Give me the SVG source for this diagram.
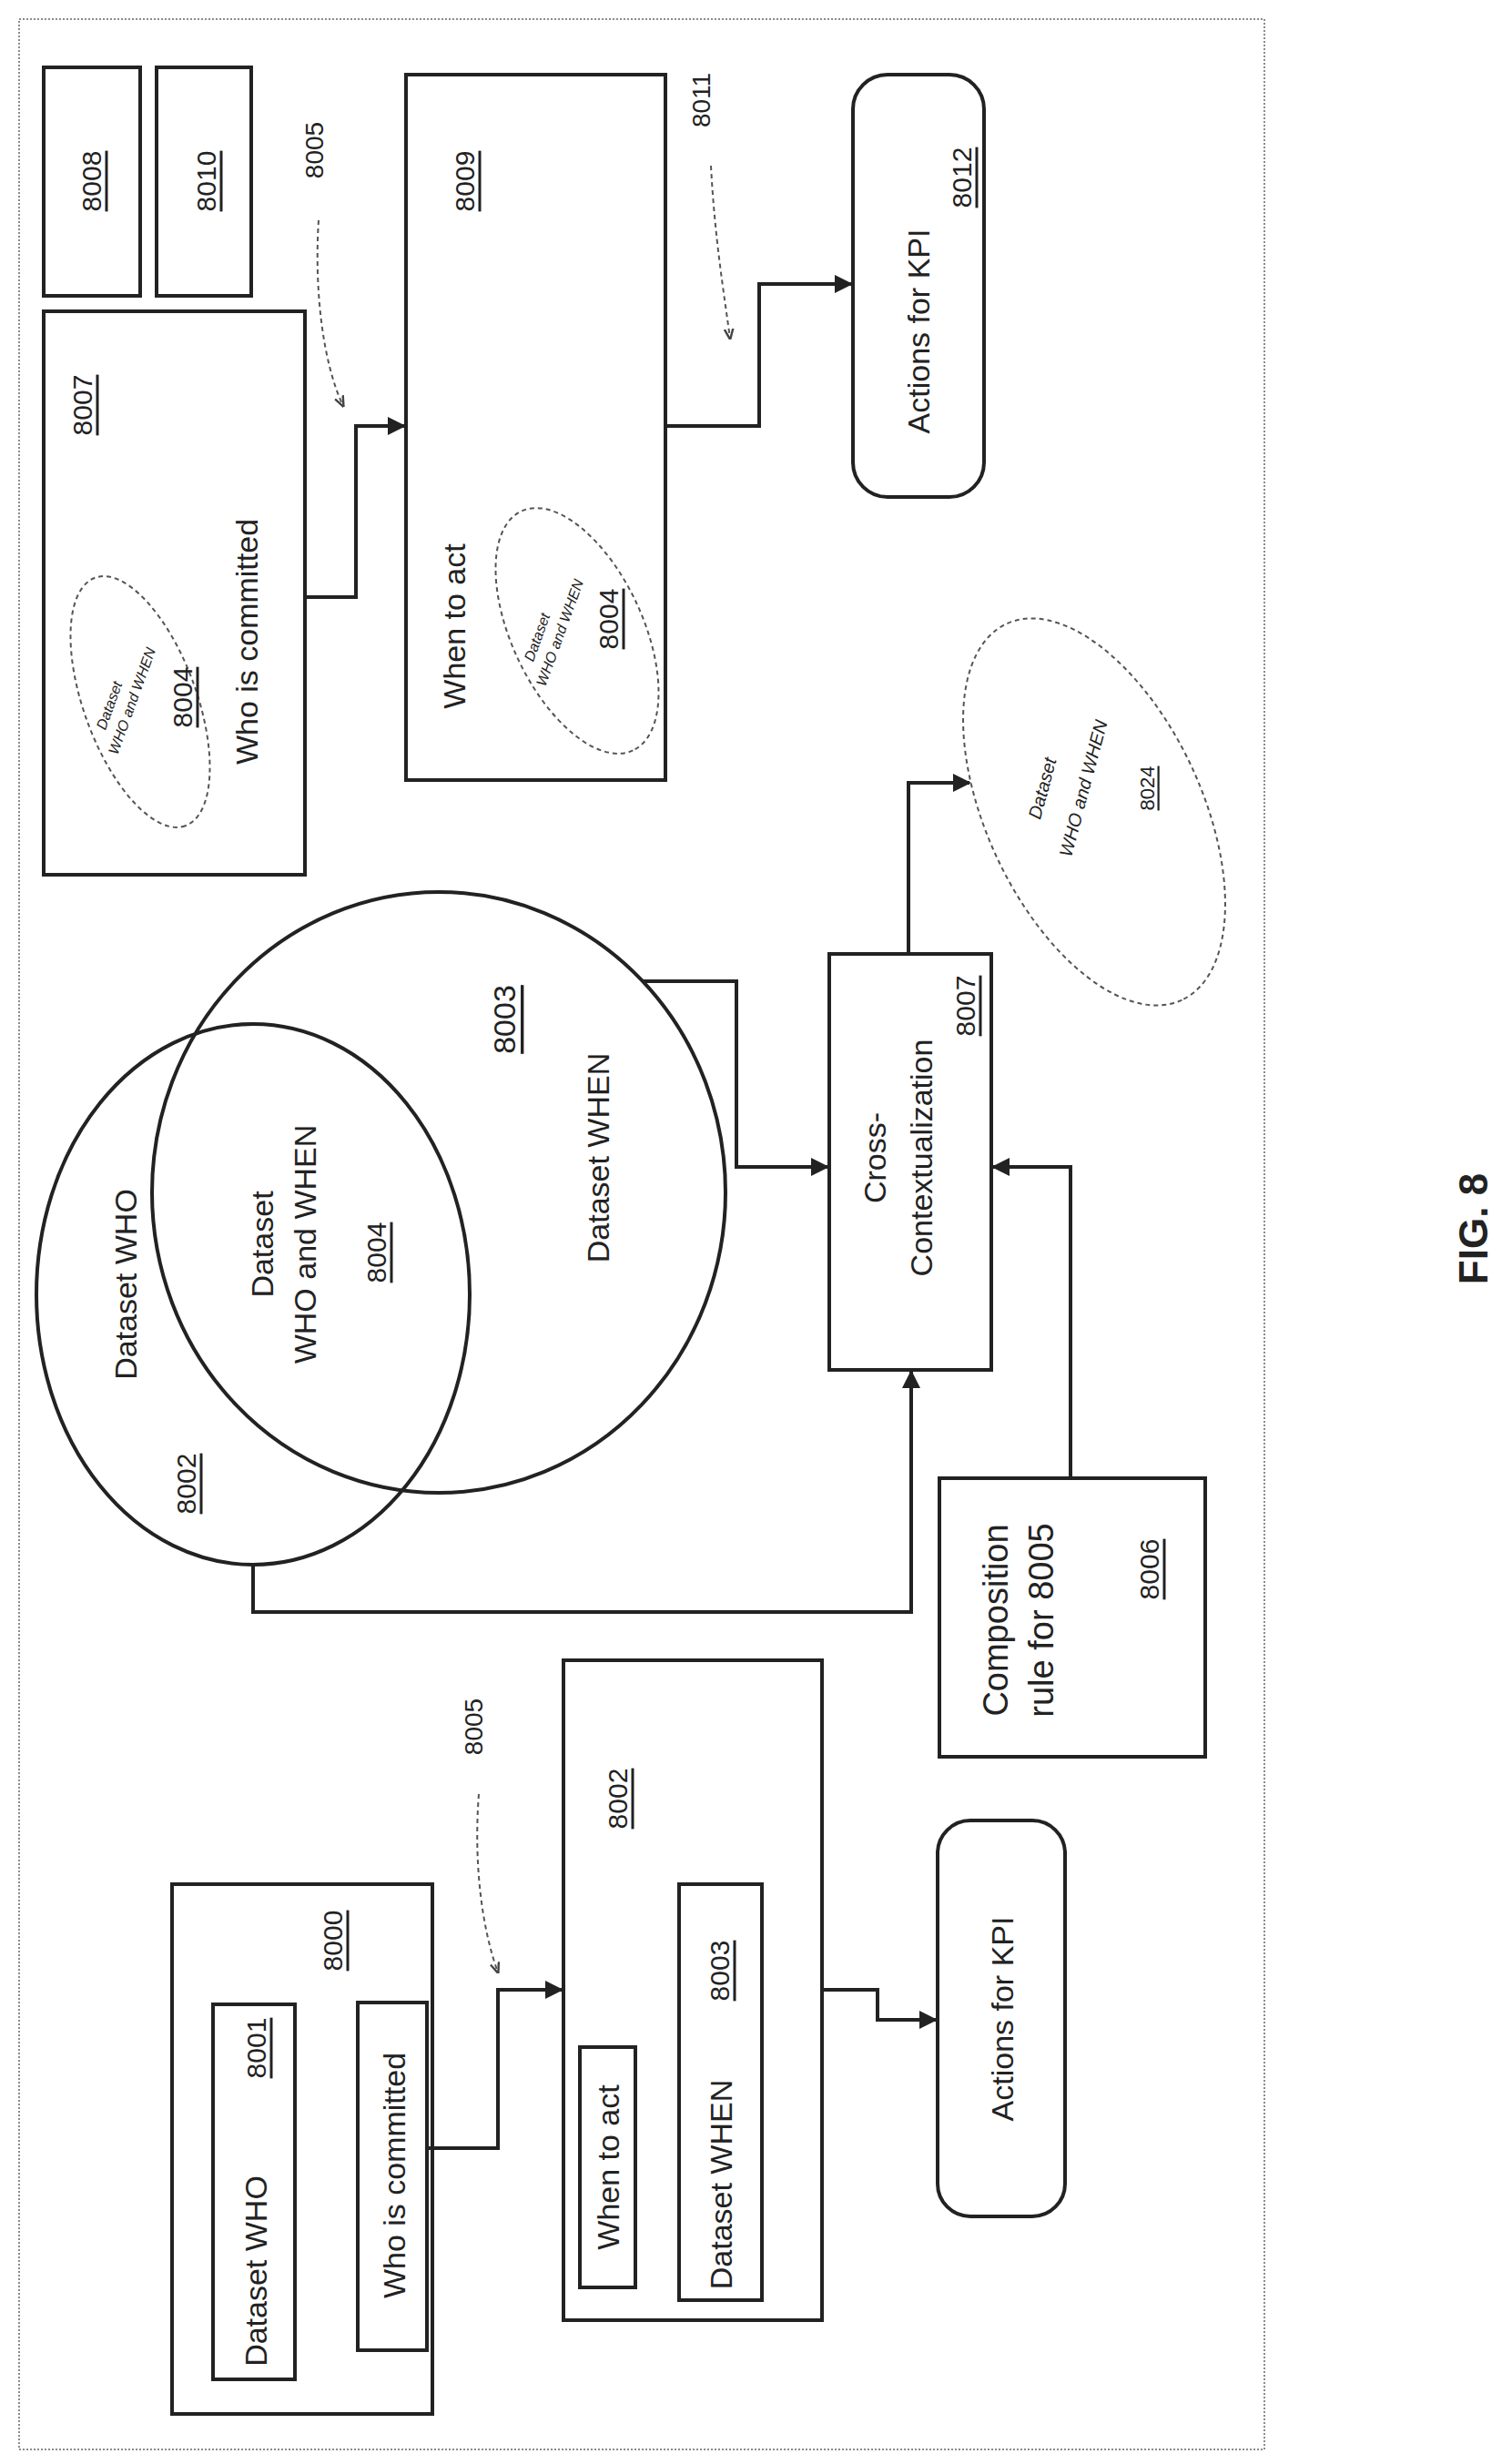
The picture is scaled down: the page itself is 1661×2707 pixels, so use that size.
<svg xmlns="http://www.w3.org/2000/svg" width="1661" height="2707" viewBox="0 0 1661 2707">
<style>
.b{fill:none;stroke:#222;stroke-width:4}
.c{fill:none;stroke:#222;stroke-width:4}
.d{fill:none;stroke:#555;stroke-width:2;stroke-dasharray:5 4}
t,text{font-family:"Liberation Sans",Arial,sans-serif;fill:#222;dominant-baseline:central;text-anchor:middle}
.l{font-size:34px}
.s{font-size:30px;text-decoration:underline}
.m{font-size:16px;font-style:italic}
</style>
<defs>
<marker id="a" viewBox="0 0 10 10" refX="9" refY="5" markerWidth="5" markerHeight="5" orient="auto" markerUnits="strokeWidth"><path d="M0,0L10,5L0,10z" fill="#222"/></marker>
<marker id="da" viewBox="0 0 10 10" refX="9" refY="5" markerWidth="6" markerHeight="6" orient="auto" markerUnits="strokeWidth"><path d="M0,1L10,5L0,9" fill="none" stroke="#444" stroke-width="2"/></marker>
</defs>
<rect x="21" y="21" width="1368" height="2670" fill="none" stroke="#666" stroke-width="1.5" stroke-dasharray="2 2"/>

<g id="n8008"><rect class="b" x="48" y="74" width="106" height="251"/><text class="s" transform="translate(100,199) rotate(-90)">8008</text></g>
<g id="n8010"><rect class="b" x="172" y="74" width="104" height="251"/><text class="s" transform="translate(226,199) rotate(-90)">8010</text></g>

<g id="n8007a"><rect class="b" x="48" y="342" width="287" height="619"/>
<text class="s" transform="translate(90,445) rotate(-90)">8007</text>
<ellipse class="d" cx="154" cy="771" rx="145" ry="62" transform="rotate(70 154 771)"/>
<text class="m" transform="translate(120,775) rotate(-70)">Dataset</text>
<text class="m" transform="translate(145,770) rotate(-70)">WHO and WHEN</text>
<text class="s" transform="translate(200,766) rotate(-90)">8004</text>
<text class="l" transform="translate(271,705) rotate(-90)">Who is committed</text></g>

<g id="n8009"><rect class="b" x="446" y="82" width="285" height="775"/>
<text class="s" transform="translate(510,199) rotate(-90)">8009</text>
<text class="l" transform="translate(499,688) rotate(-90)">When to act</text>
<ellipse class="d" cx="634" cy="693" rx="145" ry="72" transform="rotate(65 634 693)"/>
<text class="m" transform="translate(590,700) rotate(-70)">Dataset</text>
<text class="m" transform="translate(615,695) rotate(-70)">WHO and WHEN</text>
<text class="s" transform="translate(668,680) rotate(-90)">8004</text></g>

<g id="n8012"><rect class="b" x="937" y="82" width="144" height="464" rx="38"/>
<text class="l" transform="translate(1009,364) rotate(-90)">Actions for KPI</text>
<text class="s" transform="translate(1056,195) rotate(-90)">8012</text></g>

<g id="n8024"><ellipse class="d" cx="1202" cy="892" rx="228" ry="118" transform="rotate(65 1202 892)"/>
<text class="m" style="font-size:20px" transform="translate(1145,866) rotate(-75)">Dataset</text>
<text class="m" style="font-size:20px" transform="translate(1190,866) rotate(-75)">WHO and WHEN</text>
<text class="s" style="font-size:22px" transform="translate(1260,866) rotate(-90)">8024</text></g>

<g id="n8002c"><ellipse class="b" cx="278" cy="1422" rx="238" ry="297"/>
<text class="l" transform="translate(138,1411) rotate(-90)">Dataset WHO</text>
<text class="s" transform="translate(204,1630) rotate(-90)">8002</text></g>
<g id="n8003c"><ellipse class="b" cx="482" cy="1310" rx="315" ry="330"/>
<text class="l" transform="translate(554,1120) rotate(-90)"><tspan style="text-decoration:underline">8003</tspan></text>
<text class="l" transform="translate(657,1272) rotate(-90)">Dataset WHEN</text></g>
<g id="n8004c">
<text class="l" transform="translate(288,1367) rotate(-90)">Dataset</text>
<text class="l" transform="translate(335,1367) rotate(-90)">WHO and WHEN</text>
<text class="s" transform="translate(413,1376) rotate(-90)">8004</text></g>

<g id="n8007"><rect class="b" x="911" y="1048" width="178" height="457"/>
<text class="l" transform="translate(961,1272) rotate(-90)">Cross-</text>
<text class="l" transform="translate(1012,1272) rotate(-90)">Contextualization</text>
<text class="s" transform="translate(1060,1105) rotate(-90)">8007</text></g>

<g id="n8006"><rect class="b" x="1032" y="1624" width="292" height="306"/>
<text class="l" style="font-size:38px" transform="translate(1094,1780) rotate(-90)">Composition</text>
<text class="l" style="font-size:38px" transform="translate(1144,1780) rotate(-90)">rule for 8005</text>
<text class="s" transform="translate(1262,1724) rotate(-90)">8006</text></g>

<g id="n8000"><rect class="b" x="189" y="2070" width="286" height="582"/>
<rect class="b" x="234" y="2202" width="90" height="412"/>
<text class="l" transform="translate(281,2495) rotate(-90)">Dataset WHO</text>
<text class="s" transform="translate(281,2250) rotate(-90)">8001</text>
<rect class="b" x="393" y="2200" width="76" height="382"/>
<text class="l" transform="translate(433,2390) rotate(-90)">Who is committed</text>
<text class="s" transform="translate(365,2132) rotate(-90)">8000</text></g>

<g id="n8002b"><rect class="b" x="619" y="1824" width="284" height="725"/>
<text class="s" transform="translate(678,1976) rotate(-90)">8002</text>
<rect class="b" x="637" y="2249" width="61" height="264"/>
<text class="l" transform="translate(668,2381) rotate(-90)">When to act</text>
<rect class="b" x="746" y="2070" width="91" height="457"/>
<text class="l" transform="translate(792,2400) rotate(-90)">Dataset WHEN</text>
<text class="s" transform="translate(790,2165) rotate(-90)">8003</text></g>

<g id="nkpi"><rect class="b" x="1030" y="2000" width="140" height="435" rx="36"/>
<text class="l" transform="translate(1101,2218) rotate(-90)">Actions for KPI</text></g>

<g id="labels">
<text class="l" style="font-size:28px" transform="translate(345,165) rotate(-90)">8005</text>
<text class="l" style="font-size:28px" transform="translate(770,110) rotate(-90)">8011</text>
<text class="l" style="font-size:28px" transform="translate(520,1897) rotate(-90)">8005</text>
<text style="font-size:44px;font-weight:bold" transform="translate(1618,1350) rotate(-90)">FIG. 8</text>
</g>

<g id="connectors">
<path class="c" d="M335,656H391V468H444" marker-end="url(#a)"/>
<path class="c" d="M731,468H834V312H935" marker-end="url(#a)"/>
<path class="c" d="M998,1048V860H1065" marker-end="url(#a)"/>
<path class="c" d="M706,1078H809V1282H909" marker-end="url(#a)"/>
<path class="c" d="M1176,1624V1282H1091" marker-end="url(#a)"/>
<path class="c" d="M278,1719V1771H1001V1507" marker-end="url(#a)"/>
<path class="c" d="M469,2360H547V2186H617" marker-end="url(#a)"/>
<path class="c" d="M903,2186H964V2219H1028" marker-end="url(#a)"/>
<path class="d" d="M350,242C345,320 355,400 377,446" marker-end="url(#da)"/>
<path class="d" d="M781,182C785,260 795,320 802,372" marker-end="url(#da)"/>
<path class="d" d="M526,1971C520,2050 530,2120 547,2167" marker-end="url(#da)"/>
</g>
</svg>
